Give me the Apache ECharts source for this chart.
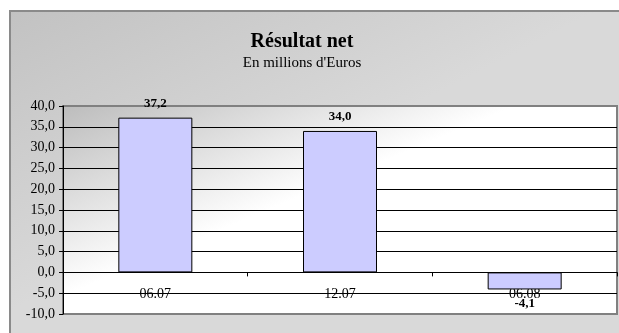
<!DOCTYPE html>
<html>
<head>
<meta charset="utf-8">
<script src="https://cdn.jsdelivr.net/npm/echarts@6/dist/echarts.min.js"></script>
<style>
html,body{margin:0;padding:0;background:#fff;}
#c{width:619px;height:333px;}
</style>
</head>
<body>
<div id="c"></div>
<script>
var categories = ['06.07', '12.07', '06.08'];
var values = [37.2, 34.0, -4.1];
var yTicks = [-10, -5, 0, 5, 10, 15, 20, 25, 30, 35, 40];

function fr(v) { return v.toFixed(1).replace('.', ','); }

var chart = echarts.init(document.getElementById('c'), null, {renderer: 'canvas'});
var FONT = '"Liberation Serif", "Times New Roman", serif';

var splitColors = yTicks.map(function (t, i) {
  return (i === 0 || i === yTicks.length - 1) ? '#808080' : '#000000';
});

chart.setOption({
  animation: false,
  backgroundColor: '#ffffff',
  graphic: [{
    type: 'rect',
    z: -10,
    silent: true,
    shape: {x: 10, y: 11, width: 640, height: 340},
    style: {
      fill: new echarts.graphic.LinearGradient(0, 0, 0.19, 0.7, [
        {offset: 0, color: '#c2c2c2'},
        {offset: 1, color: '#d9d9d9'}
      ]),
      stroke: '#8a8a8a',
      lineWidth: 2
    }
  }],
  title: {
    text: 'Résultat net',
    subtext: "En millions d'Euros",
    left: 297,
    textAlign: 'center',
    top: 27,
    itemGap: 4,
    textStyle: {fontFamily: FONT, fontSize: 20, fontWeight: 'bold', color: '#000'},
    subtextStyle: {fontFamily: FONT, fontSize: 15, color: '#000'}
  },
  grid: {
    left: 63, right: 2, top: 106, bottom: 19,
    outerBoundsMode: 'none',
    containLabel: false,
    show: true,
    borderColor: '#808080',
    borderWidth: 2,
    backgroundColor: new echarts.graphic.LinearGradient(0, 0, 0.123, 0.775, [
      {offset: 0, color: '#bcbcbc'},
      {offset: 1, color: '#ffffff'}
    ])
  },
  xAxis: [{
    type: 'category',
    data: categories,
    axisLine: {show: true, onZero: true, lineStyle: {color: '#000', width: 1}},
    axisTick: {show: true, length: 4, lineStyle: {color: '#000'}},
    axisLabel: {show: false},
    splitLine: {show: false}
  }, {
    type: 'category',
    data: categories,
    position: 'bottom',
    axisLine: {show: false, onZero: false},
    axisTick: {show: false},
    axisLabel: {fontFamily: FONT, fontSize: 14, color: '#000', margin: -27},
    splitLine: {show: false}
  }],
  yAxis: {
    type: 'value',
    min: yTicks[0],
    max: yTicks[yTicks.length - 1],
    interval: 5,
    axisLine: {show: true, lineStyle: {color: '#000', width: 1}},
    axisTick: {show: true, length: 4, lineStyle: {color: '#000'}},
    axisLabel: {fontFamily: FONT, fontSize: 14, color: '#000', margin: 8, formatter: fr},
    splitLine: {show: true, lineStyle: {color: splitColors, width: 1}}
  },
  series: [{
    type: 'bar',
    xAxisIndex: 0,
    barWidth: 74,
    data: values.map(function (v) {
      return {value: v, label: {position: v < 0 ? 'bottom' : 'top'}};
    }),
    itemStyle: {color: '#ccccff', borderColor: '#000', borderWidth: 1},
    label: {
      show: true,
      distance: 8,
      fontFamily: FONT,
      fontSize: 13,
      fontWeight: 'bold',
      color: '#000',
      formatter: function (p) { return fr(p.value); }
    }
  }]
});
</script>
</body>
</html>
